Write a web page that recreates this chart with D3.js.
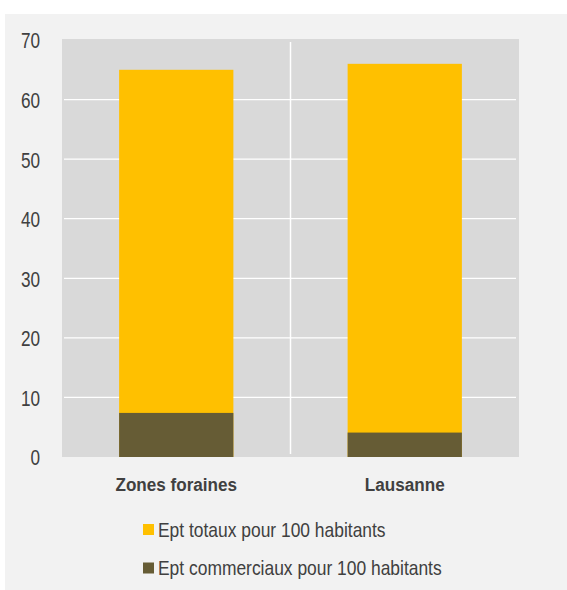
<!DOCTYPE html>
<html><head><meta charset="utf-8">
<script src="https://cdn.jsdelivr.net/npm/d3@7"></script>
<style>
html,body{margin:0;padding:0;background:#fff;}
text{font-family:"Liberation Sans Narrow","Liberation Sans",Arial,sans-serif;fill:#404040;}
</style></head>
<body><svg id="c" width="567" height="590"></svg>
<script>
const categories = ["Zones foraines", "Lausanne"];
const totalValues = [65, 66];          // Ept totaux pour 100 habitants
const commercialValues = [7.4, 4.1];   // Ept commerciaux pour 100 habitants
const yTicks = [0, 10, 20, 30, 40, 50, 60, 70];
const seriesNames = ["Ept totaux pour 100 habitants", "Ept commerciaux pour 100 habitants"];
const colors = ["#ffc000", "#665c35"];

const svg = d3.select("#c");
svg.append("rect").attr("x",5).attr("y",14).attr("width",562).attr("height",576).attr("fill","#f2f2f2");

const L=62, R=519, T=40, B=457;
svg.append("rect").attr("x",L).attr("y",T-1).attr("width",R-L).attr("height",B-T+1).attr("fill","#d9d9d9");

const x = d3.scaleBand().domain(categories).range([L,R]).paddingInner(0).paddingOuter(0);
const y = d3.scaleLinear().domain([0,70]).range([B,T]);

// horizontal gridlines
svg.append("g").selectAll("line").data(yTicks.filter(d=>d>0 && d<70)).join("line")
  .attr("x1",L+2).attr("x2",R-3).attr("y1",d=>y(d)).attr("y2",d=>y(d))
  .attr("stroke","#fff").attr("stroke-width",1.2);
// vertical category divider
svg.append("line").attr("x1",x(categories[1])).attr("x2",x(categories[1]))
  .attr("y1",T+2).attr("y2",B-3).attr("stroke","#fff").attr("stroke-width",1.5);

const bw = x.bandwidth()*0.5;
const off = (x.bandwidth()-bw)/2;
svg.append("g").selectAll("rect").data(categories).join("rect")
  .attr("x",d=>x(d)+off).attr("width",bw)
  .attr("y",(d,i)=>y(totalValues[i])).attr("height",(d,i)=>y(0)-y(totalValues[i]))
  .attr("fill",colors[0]);
svg.append("g").selectAll("rect").data(categories).join("rect")
  .attr("x",d=>x(d)+off).attr("width",bw)
  .attr("y",(d,i)=>y(commercialValues[i])).attr("height",(d,i)=>y(0)-y(commercialValues[i]))
  .attr("fill",colors[1]);

// y axis
const yAxis = d3.axisLeft(y).tickValues(yTicks).tickSize(0).tickPadding(0);
const ga = svg.append("g").attr("transform","translate(40,0)").call(yAxis);
ga.select(".domain").remove();
ga.selectAll("text").style("font-size","22px").attr("x",0).attr("dy","0.36em")
  .attr("transform","scale(0.78,1)");

// x axis
const xAxis = d3.axisBottom(x).tickSize(0).tickPadding(0);
const gx = svg.append("g").attr("transform","translate(0,491)").call(xAxis);
gx.select(".domain").remove();
gx.selectAll("text").style("font-size","19px").style("font-weight","bold").attr("y",0).attr("dy","0")
  .attr("transform","scale(0.9,1)");

// legend
const legY = [536.5, 575];
const lg = svg.append("g");
seriesNames.forEach((s,i)=>{
  lg.append("rect").attr("x",143).attr("y",legY[i]-12.5).attr("width",11).attr("height",11).attr("fill",colors[i]);
  lg.append("text").attr("transform",`translate(158,${legY[i]}) scale(0.85,1)`)
    .style("font-size","20.5px").text(s);
});
</script></body></html>
